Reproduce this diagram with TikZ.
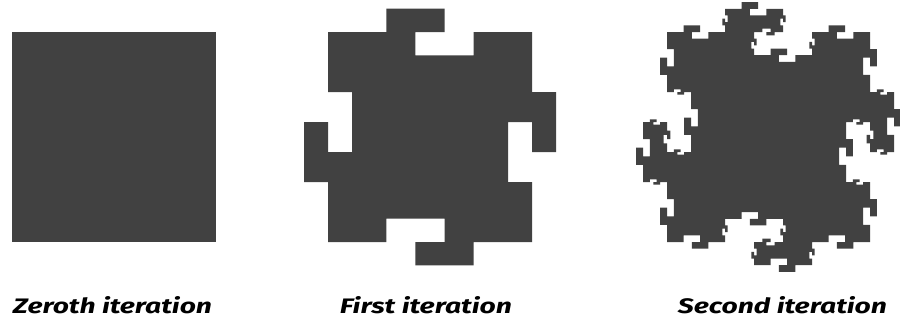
\documentclass[tikz,border=0pt]{standalone}
\usepackage{fontspec}
\setmainfont{Fira Sans}
\definecolor{islandgray}{RGB}{65,65,65}
\def\khh{0.8}
\newcommand\kp[3]{%
  \pgfmathsetmacro\ktmp{\kxo+(#2)*\kdx-(#3)*\khh*\kdy}%
  \expandafter\let\csname kx#1\endcsname\ktmp
  \pgfmathsetmacro\ktmp{\kyo+(#2)*\kdy+(#3)*\khh*\kdx}%
  \expandafter\let\csname ky#1\endcsname\ktmp}
\newcommand\kochseg[5]{%
  \ifnum#1=0\relax
    \xdef\kpath{\kpath -- (#4,#5)}%
  \else
    \begingroup
    \def\kxo{#2}\def\kyo{#3}%
    \pgfmathsetmacro\kdx{((#4)-(#2))/7}%
    \pgfmathsetmacro\kdy{((#5)-(#3))/7}%
    \pgfmathtruncatemacro\klev{#1-1}%
    \kp{a}{2}{0}\kp{b}{2}{1}\kp{c}{4}{1}\kp{d}{4}{0}%
    \kp{e}{3}{0}\kp{f}{3}{-1}\kp{g}{5}{-1}\kp{i}{5}{0}%
    \edef\knext{%
      \noexpand\kochseg{\klev}{#2}{#3}{\kxa}{\kya}%
      \noexpand\kochseg{\klev}{\kxa}{\kya}{\kxb}{\kyb}%
      \noexpand\kochseg{\klev}{\kxb}{\kyb}{\kxc}{\kyc}%
      \noexpand\kochseg{\klev}{\kxc}{\kyc}{\kxd}{\kyd}%
      \noexpand\kochseg{\klev}{\kxd}{\kyd}{\kxe}{\kye}%
      \noexpand\kochseg{\klev}{\kxe}{\kye}{\kxf}{\kyf}%
      \noexpand\kochseg{\klev}{\kxf}{\kyf}{\kxg}{\kyg}%
      \noexpand\kochseg{\klev}{\kxg}{\kyg}{\kxi}{\kyi}%
      \noexpand\kochseg{\klev}{\kxi}{\kyi}{#4}{#5}}%
    \expandafter\endgroup\knext
  \fi}
\newcommand\kochisland[5]{%
  \gdef\kpath{(#2,#3)}%
  \kochseg{#1}{#2}{#3}{#4}{#3}%
  \kochseg{#1}{#4}{#3}{#4}{#5}%
  \kochseg{#1}{#4}{#5}{#2}{#5}%
  \kochseg{#1}{#2}{#5}{#2}{#3}}
\tikzset{
  island/.style={fill=islandgray, draw=none},
  caption/.style={anchor=base, inner sep=0pt, font=\bfseries\itshape}
}
\begin{document}
\begin{tikzpicture}[x=1pt,y=1pt]
\useasboundingbox (0,0) rectangle (900,-322);
% zeroth iteration
\fill[island] (12,-32) rectangle (216,-242);
% first iteration
\kochisland{1}{328}{-32}{532}{-242}
\edef\kdraw{\noexpand\fill[island] \kpath -- cycle;}\kdraw
% second iteration
\kochisland{2}{667}{-32}{870}{-242}
\edef\kdraw{\noexpand\fill[island] \kpath -- cycle;}\kdraw
% captions
\node[caption] (cap0) at (112.5,-313) {\resizebox{199pt}{17pt}{Zeroth iteration}};
\node[caption] (cap1) at (426,-313) {\resizebox{172pt}{17pt}{First iteration}};
\node[caption] (cap2) at (782.5,-313) {\resizebox{209pt}{17pt}{Second iteration}};
\end{tikzpicture}
\end{document}
